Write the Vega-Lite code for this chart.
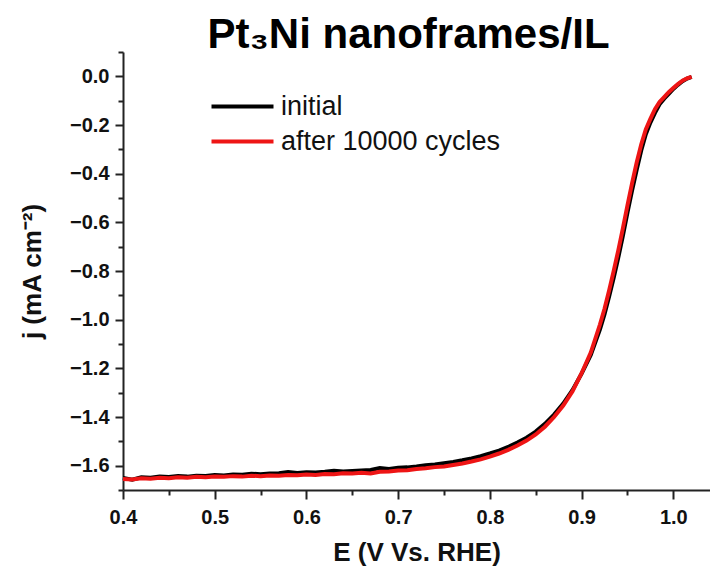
{
  "$schema": "https://vega.github.io/schema/vega-lite/v6.json",
  "width": 587,
  "height": 438,
  "autosize": "none",
  "padding": {"left": 123, "top": 52, "right": 0, "bottom": 81},
  "background": "white",
  "config": {"view": {"stroke": null}, "font": "Liberation Sans"},
  "title": {"text": "Pt₃Ni nanoframes/IL", "font": "Liberation Sans", "fontSize": 42, "fontWeight": "bold", "color": "#000", "anchor": "middle", "frame": "group", "baseline": "alphabetic", "offset": 5, "dx": -8, "dy": 53},
  "datasets": {
    "lsv": [
      {"E": 0.40, "j": -1.650, "series": "initial"},
      {"E": 0.41, "j": -1.658, "series": "initial"},
      {"E": 0.42, "j": -1.648, "series": "initial"},
      {"E": 0.43, "j": -1.650, "series": "initial"},
      {"E": 0.44, "j": -1.645, "series": "initial"},
      {"E": 0.45, "j": -1.647, "series": "initial"},
      {"E": 0.46, "j": -1.642, "series": "initial"},
      {"E": 0.47, "j": -1.645, "series": "initial"},
      {"E": 0.48, "j": -1.641, "series": "initial"},
      {"E": 0.49, "j": -1.642, "series": "initial"},
      {"E": 0.50, "j": -1.638, "series": "initial"},
      {"E": 0.51, "j": -1.640, "series": "initial"},
      {"E": 0.52, "j": -1.636, "series": "initial"},
      {"E": 0.53, "j": -1.637, "series": "initial"},
      {"E": 0.54, "j": -1.633, "series": "initial"},
      {"E": 0.55, "j": -1.635, "series": "initial"},
      {"E": 0.56, "j": -1.632, "series": "initial"},
      {"E": 0.57, "j": -1.631, "series": "initial"},
      {"E": 0.58, "j": -1.626, "series": "initial"},
      {"E": 0.59, "j": -1.630, "series": "initial"},
      {"E": 0.60, "j": -1.627, "series": "initial"},
      {"E": 0.61, "j": -1.628, "series": "initial"},
      {"E": 0.62, "j": -1.625, "series": "initial"},
      {"E": 0.63, "j": -1.621, "series": "initial"},
      {"E": 0.64, "j": -1.624, "series": "initial"},
      {"E": 0.65, "j": -1.622, "series": "initial"},
      {"E": 0.66, "j": -1.620, "series": "initial"},
      {"E": 0.67, "j": -1.618, "series": "initial"},
      {"E": 0.68, "j": -1.610, "series": "initial"},
      {"E": 0.69, "j": -1.614, "series": "initial"},
      {"E": 0.70, "j": -1.609, "series": "initial"},
      {"E": 0.71, "j": -1.607, "series": "initial"},
      {"E": 0.72, "j": -1.603, "series": "initial"},
      {"E": 0.73, "j": -1.598, "series": "initial"},
      {"E": 0.74, "j": -1.595, "series": "initial"},
      {"E": 0.75, "j": -1.590, "series": "initial"},
      {"E": 0.76, "j": -1.585, "series": "initial"},
      {"E": 0.77, "j": -1.578, "series": "initial"},
      {"E": 0.78, "j": -1.570, "series": "initial"},
      {"E": 0.79, "j": -1.561, "series": "initial"},
      {"E": 0.80, "j": -1.550, "series": "initial"},
      {"E": 0.81, "j": -1.538, "series": "initial"},
      {"E": 0.82, "j": -1.523, "series": "initial"},
      {"E": 0.83, "j": -1.505, "series": "initial"},
      {"E": 0.84, "j": -1.485, "series": "initial"},
      {"E": 0.85, "j": -1.460, "series": "initial"},
      {"E": 0.86, "j": -1.428, "series": "initial"},
      {"E": 0.87, "j": -1.390, "series": "initial"},
      {"E": 0.88, "j": -1.345, "series": "initial"},
      {"E": 0.89, "j": -1.290, "series": "initial"},
      {"E": 0.90, "j": -1.222, "series": "initial"},
      {"E": 0.91, "j": -1.145, "series": "initial"},
      {"E": 0.92, "j": -1.040, "series": "initial"},
      {"E": 0.925, "j": -0.978, "series": "initial"},
      {"E": 0.93, "j": -0.905, "series": "initial"},
      {"E": 0.935, "j": -0.828, "series": "initial"},
      {"E": 0.94, "j": -0.745, "series": "initial"},
      {"E": 0.945, "j": -0.655, "series": "initial"},
      {"E": 0.95, "j": -0.560, "series": "initial"},
      {"E": 0.955, "j": -0.470, "series": "initial"},
      {"E": 0.96, "j": -0.385, "series": "initial"},
      {"E": 0.965, "j": -0.305, "series": "initial"},
      {"E": 0.97, "j": -0.238, "series": "initial"},
      {"E": 0.975, "j": -0.190, "series": "initial"},
      {"E": 0.98, "j": -0.150, "series": "initial"},
      {"E": 0.985, "j": -0.115, "series": "initial"},
      {"E": 0.99, "j": -0.092, "series": "initial"},
      {"E": 0.995, "j": -0.072, "series": "initial"},
      {"E": 1.00, "j": -0.052, "series": "initial"},
      {"E": 1.005, "j": -0.035, "series": "initial"},
      {"E": 1.01, "j": -0.020, "series": "initial"},
      {"E": 1.015, "j": -0.009, "series": "initial"},
      {"E": 1.02, "j": -0.002, "series": "initial"},

      {"E": 0.40, "j": -1.655, "series": "after 10000 cycles"},
      {"E": 0.41, "j": -1.657, "series": "after 10000 cycles"},
      {"E": 0.42, "j": -1.652, "series": "after 10000 cycles"},
      {"E": 0.43, "j": -1.654, "series": "after 10000 cycles"},
      {"E": 0.44, "j": -1.650, "series": "after 10000 cycles"},
      {"E": 0.45, "j": -1.652, "series": "after 10000 cycles"},
      {"E": 0.46, "j": -1.648, "series": "after 10000 cycles"},
      {"E": 0.47, "j": -1.650, "series": "after 10000 cycles"},
      {"E": 0.48, "j": -1.646, "series": "after 10000 cycles"},
      {"E": 0.49, "j": -1.648, "series": "after 10000 cycles"},
      {"E": 0.50, "j": -1.645, "series": "after 10000 cycles"},
      {"E": 0.51, "j": -1.646, "series": "after 10000 cycles"},
      {"E": 0.52, "j": -1.643, "series": "after 10000 cycles"},
      {"E": 0.53, "j": -1.645, "series": "after 10000 cycles"},
      {"E": 0.54, "j": -1.641, "series": "after 10000 cycles"},
      {"E": 0.55, "j": -1.643, "series": "after 10000 cycles"},
      {"E": 0.56, "j": -1.640, "series": "after 10000 cycles"},
      {"E": 0.57, "j": -1.641, "series": "after 10000 cycles"},
      {"E": 0.58, "j": -1.638, "series": "after 10000 cycles"},
      {"E": 0.59, "j": -1.639, "series": "after 10000 cycles"},
      {"E": 0.60, "j": -1.636, "series": "after 10000 cycles"},
      {"E": 0.61, "j": -1.638, "series": "after 10000 cycles"},
      {"E": 0.62, "j": -1.634, "series": "after 10000 cycles"},
      {"E": 0.63, "j": -1.635, "series": "after 10000 cycles"},
      {"E": 0.64, "j": -1.631, "series": "after 10000 cycles"},
      {"E": 0.65, "j": -1.632, "series": "after 10000 cycles"},
      {"E": 0.66, "j": -1.629, "series": "after 10000 cycles"},
      {"E": 0.67, "j": -1.632, "series": "after 10000 cycles"},
      {"E": 0.68, "j": -1.625, "series": "after 10000 cycles"},
      {"E": 0.69, "j": -1.624, "series": "after 10000 cycles"},
      {"E": 0.70, "j": -1.620, "series": "after 10000 cycles"},
      {"E": 0.71, "j": -1.619, "series": "after 10000 cycles"},
      {"E": 0.72, "j": -1.614, "series": "after 10000 cycles"},
      {"E": 0.73, "j": -1.611, "series": "after 10000 cycles"},
      {"E": 0.74, "j": -1.606, "series": "after 10000 cycles"},
      {"E": 0.75, "j": -1.603, "series": "after 10000 cycles"},
      {"E": 0.76, "j": -1.597, "series": "after 10000 cycles"},
      {"E": 0.77, "j": -1.591, "series": "after 10000 cycles"},
      {"E": 0.78, "j": -1.583, "series": "after 10000 cycles"},
      {"E": 0.79, "j": -1.574, "series": "after 10000 cycles"},
      {"E": 0.80, "j": -1.563, "series": "after 10000 cycles"},
      {"E": 0.81, "j": -1.550, "series": "after 10000 cycles"},
      {"E": 0.82, "j": -1.535, "series": "after 10000 cycles"},
      {"E": 0.83, "j": -1.517, "series": "after 10000 cycles"},
      {"E": 0.84, "j": -1.497, "series": "after 10000 cycles"},
      {"E": 0.85, "j": -1.472, "series": "after 10000 cycles"},
      {"E": 0.86, "j": -1.440, "series": "after 10000 cycles"},
      {"E": 0.87, "j": -1.400, "series": "after 10000 cycles"},
      {"E": 0.88, "j": -1.353, "series": "after 10000 cycles"},
      {"E": 0.89, "j": -1.295, "series": "after 10000 cycles"},
      {"E": 0.90, "j": -1.220, "series": "after 10000 cycles"},
      {"E": 0.91, "j": -1.135, "series": "after 10000 cycles"},
      {"E": 0.92, "j": -1.020, "series": "after 10000 cycles"},
      {"E": 0.925, "j": -0.955, "series": "after 10000 cycles"},
      {"E": 0.93, "j": -0.880, "series": "after 10000 cycles"},
      {"E": 0.935, "j": -0.800, "series": "after 10000 cycles"},
      {"E": 0.94, "j": -0.715, "series": "after 10000 cycles"},
      {"E": 0.945, "j": -0.625, "series": "after 10000 cycles"},
      {"E": 0.95, "j": -0.530, "series": "after 10000 cycles"},
      {"E": 0.955, "j": -0.440, "series": "after 10000 cycles"},
      {"E": 0.96, "j": -0.355, "series": "after 10000 cycles"},
      {"E": 0.965, "j": -0.280, "series": "after 10000 cycles"},
      {"E": 0.97, "j": -0.218, "series": "after 10000 cycles"},
      {"E": 0.975, "j": -0.175, "series": "after 10000 cycles"},
      {"E": 0.98, "j": -0.135, "series": "after 10000 cycles"},
      {"E": 0.985, "j": -0.105, "series": "after 10000 cycles"},
      {"E": 0.99, "j": -0.085, "series": "after 10000 cycles"},
      {"E": 0.995, "j": -0.065, "series": "after 10000 cycles"},
      {"E": 1.00, "j": -0.048, "series": "after 10000 cycles"},
      {"E": 1.005, "j": -0.032, "series": "after 10000 cycles"},
      {"E": 1.01, "j": -0.018, "series": "after 10000 cycles"},
      {"E": 1.015, "j": -0.008, "series": "after 10000 cycles"},
      {"E": 1.02, "j": -0.002, "series": "after 10000 cycles"}
    ]
  },
  "data": {"name": "lsv"},
  "encoding": {
    "x": {
      "field": "E", "type": "quantitative",
      "scale": {"domain": [0.4, 1.04], "nice": false, "zero": false},
      "axis": {
        "title": "E (V Vs. RHE)",
        "values": [0.4, 0.45, 0.5, 0.55, 0.6, 0.65, 0.7, 0.75, 0.8, 0.85, 0.9, 0.95, 1.0],
        "labelExpr": "round(datum.value*100) % 10 === 0 ? format(datum.value, '.1f') : ''",
        "tickSize": {"condition": {"test": "round(datum.value*100) % 10 !== 0", "value": 5}, "value": 9},
        "labelFlush": false, "labelOverlap": false, "grid": false,
        "domainColor": "#222", "domainWidth": 2, "tickColor": "#222", "tickWidth": 2,
        "labelFont": "Liberation Sans", "labelFontSize": 20, "labelFontWeight": "bold", "labelColor": "#111", "labelPadding": 8,
        "titleFont": "Liberation Sans", "titleFontSize": 26, "titleFontWeight": "bold", "titleColor": "#111", "titlePadding": 12
      }
    },
    "y": {
      "field": "j", "type": "quantitative",
      "scale": {"domain": [-1.7, 0.1], "nice": false, "zero": false},
      "axis": {
        "title": "j (mA cm⁻²)",
        "values": [-1.7, -1.6, -1.5, -1.4, -1.3, -1.2, -1.1, -1.0, -0.9, -0.8, -0.7, -0.6, -0.5, -0.4, -0.3, -0.2, -0.1, 0.0, 0.1],
        "labelExpr": "abs(round(datum.value*10)) % 2 === 0 ? format(datum.value, '.1f') : ''",
        "tickSize": {"condition": {"test": "abs(round(datum.value*10)) % 2 !== 0", "value": 5}, "value": 8},
        "labelOverlap": false, "grid": false,
        "domainColor": "#222", "domainWidth": 2, "tickColor": "#222", "tickWidth": 2,
        "labelFont": "Liberation Sans", "labelFontSize": 20, "labelFontWeight": "bold", "labelColor": "#111", "labelPadding": 6,
        "titleFont": "Liberation Sans", "titleFontSize": 26, "titleFontWeight": "bold", "titleColor": "#111", "titlePadding": 24
      }
    },
    "color": {
      "field": "series", "type": "nominal",
      "scale": {"domain": ["initial", "after 10000 cycles"], "range": ["#000000", "#ee1515"]},
      "legend": {
        "orient": "none", "legendX": 102, "legendY": 37, "title": null, "padding": 0,
        "symbolType": "M-2,0H2", "symbolSize": 961, "symbolStrokeWidth": 4,
        "labelFont": "Liberation Sans", "labelFontSize": 27, "labelColor": "#111", "labelOffset": 21, "labelLimit": 400,
        "rowPadding": 4
      }
    }
  },
  "layer": [
    {"transform": [{"filter": "datum.series === 'initial'"}], "mark": {"type": "line", "strokeWidth": 4}},
    {"transform": [{"filter": "datum.series === 'after 10000 cycles'"}], "mark": {"type": "line", "strokeWidth": 4}}
  ]
}
